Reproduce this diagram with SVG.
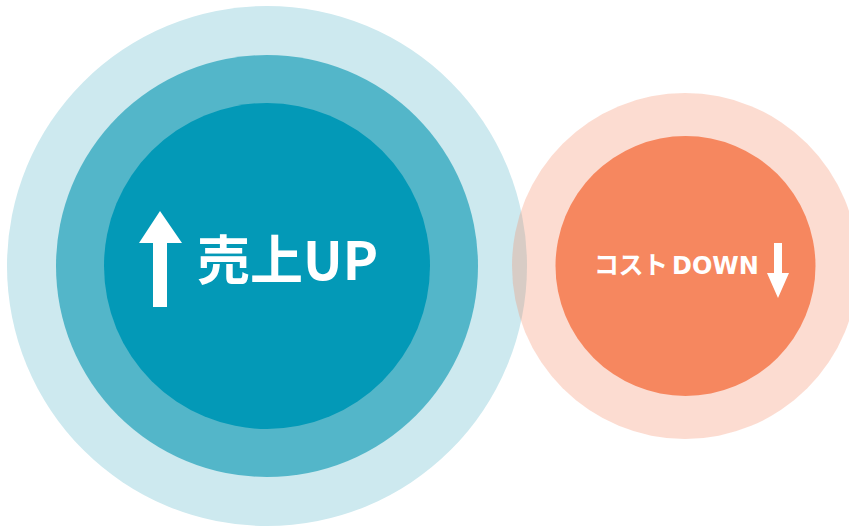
<svg xmlns="http://www.w3.org/2000/svg" width="849" height="526" viewBox="0 0 849 526">
<style>
.lbl{fill:#fff;font-family:"Noto Sans CJK JP","Noto Sans",sans-serif;font-weight:700}
.lat{font-family:"DejaVu Sans","Noto Sans",sans-serif}
.arr{fill:#fff}
</style>
<rect width="849" height="526" fill="#fff"/>
<g id="sales">
<circle cx="267" cy="266" r="260" fill="#cde9ef"/>
<circle cx="267" cy="266" r="211" fill="#53b6c9"/>
<circle cx="267" cy="266" r="163" fill="#0399b7"/>
<polygon class="arr" points="160,211 182,243 167,243 167,307 153,307 153,243 139,243"/>
<text class="lbl" x="197" y="280" font-size="53">売上UP</text>
</g>
<g id="cost">
<circle cx="685" cy="266" r="173" fill="#f6875f" fill-opacity="0.29"/>
<circle cx="685.5" cy="266" r="130" fill="#f6875f"/>
<text class="lbl" x="594" y="274" font-size="25"><tspan textLength="74" lengthAdjust="spacing">コスト</tspan><tspan class="lat" x="672" font-size="24">DOWN</tspan></text>
<polygon class="arr" points="774,243 782,243 782,273 789,273 778,298 767,273 774,273"/>
</g>
<g id="connectors"/>
</svg>
